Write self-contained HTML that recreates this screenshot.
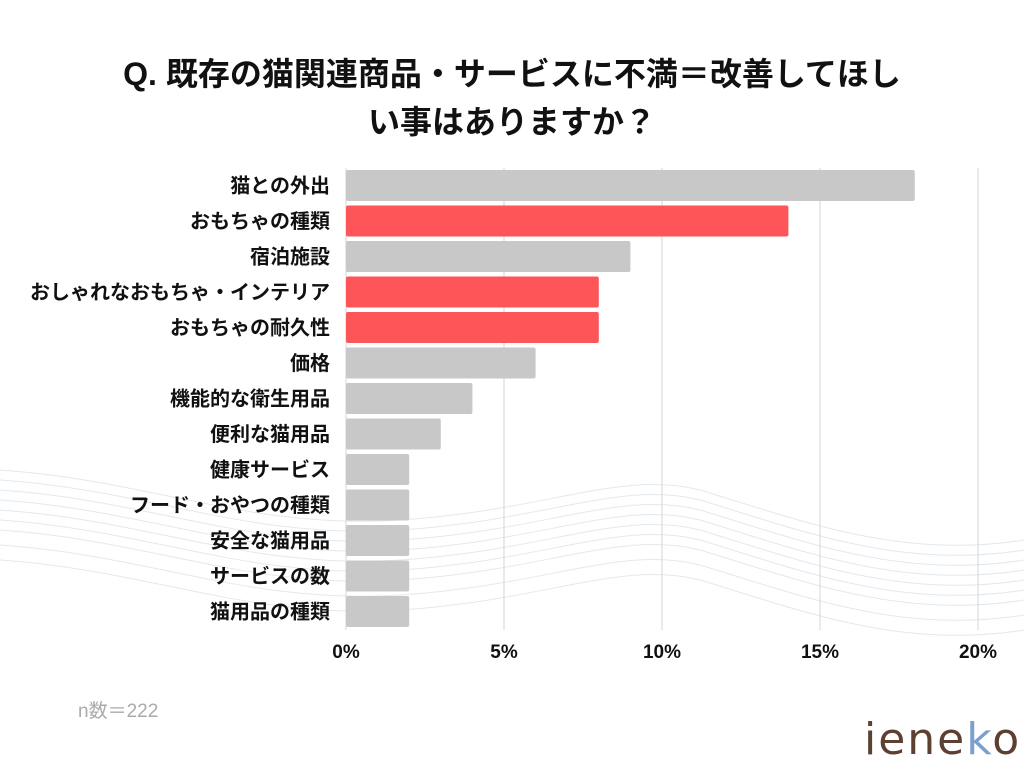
<!DOCTYPE html>
<html><head><meta charset="utf-8">
<style>
body{margin:0;width:1024px;height:768px;background:#fff;overflow:hidden;position:relative;font-family:"Liberation Sans","Noto Sans CJK JP",sans-serif;}
#title{position:absolute;left:0;width:1024px;top:50px;text-align:center;font-size:32px;font-weight:bold;line-height:48px;color:#111;}
svg{position:absolute;left:0;top:0;}
</style></head><body>
<svg width="1024" height="768">
<g fill="none" stroke="#e3e9ee" stroke-width="1">
<path d="M0 470 C150 480 250 530 400 520 C550 510 620 470 700 490 C800 520 900 560 1024 540"/>
<path d="M0 480 C150 490 250 540 400 530 C550 520 620 480 700 500 C800 530 900 570 1024 550"/>
<path d="M0 490 C150 500 250 550 400 540 C550 530 620 490 700 510 C800 540 900 580 1024 560"/>
<path d="M0 500 C150 510 250 560 400 550 C550 540 620 500 700 520 C800 550 900 590 1024 570"/>
<path d="M0 510 C150 520 250 570 400 560 C550 550 620 510 700 530 C800 560 900 600 1024 580"/>
<path d="M0 520 C150 530 250 580 400 570 C550 560 620 520 700 540 C800 570 900 610 1024 590"/>
<path d="M0 530 C150 540 250 590 400 580 C550 570 620 530 700 550 C800 580 900 620 1024 600"/>
<path d="M0 545 C150 555 250 605 400 595 C550 585 620 545 700 565 C800 595 900 635 1024 615"/>
<path d="M0 560 C150 570 250 620 400 610 C550 600 620 560 700 580 C800 610 900 650 1024 630"/>
</g>
</svg>
<div id="title">Q. 既存の猫関連商品・サービスに不満＝改善してほし<br>い事はありますか？</div>
<svg id="chart" width="1024" height="768"></svg>
<div style="position:absolute;left:78px;top:696px;font-size:19px;color:#aaa;">n数＝222</div>
<div style="position:absolute;left:864px;top:714px;font-size:44px;color:#5e4033;letter-spacing:2px;font-family:'DejaVu Sans',sans-serif;">iene<span style="color:#7ba0cc">k</span>o</div>
<script>
const categories=["猫との外出","おもちゃの種類","宿泊施設","おしゃれなおもちゃ・インテリア","おもちゃの耐久性","価格","機能的な衛生用品","便利な猫用品","健康サービス","フード・おやつの種類","安全な猫用品","サービスの数","猫用品の種類"];
const values=[18,14,9,8,8,6,4,3,2,2,2,2,2];
const highlighted=[false,true,false,true,true,false,false,false,false,false,false,false,false];
const ticks=[0,5,10,15,20];
const NS="http://www.w3.org/2000/svg";
const svg=document.getElementById('chart');
const x=v=>346+v*31.6;
const y=i=>170+i*35.5;
const bh=31;
function mk(t,a){const e=document.createElementNS(NS,t);for(const k in a)e.setAttribute(k,a[k]);svg.appendChild(e);return e;}
ticks.forEach(t=>{
 const l=mk('line',{x1:x(t),x2:x(t),y1:168,y2:630,stroke:'#d6d6d6','stroke-width':1});
 
 
 const tx=mk('text',{x:x(t),y:658,'text-anchor':'middle','font-size':19,'font-weight':'bold',fill:'#111'});
 tx.textContent=t+'%';
 
 
});
categories.forEach((c,i)=>{
 const r=mk('rect',{x:x(0),y:y(i),width:x(values[i])-x(0),height:bh,fill:highlighted[i]?'#fe5559':'#c8c8c8',rx:2});
 
 
 const t=mk('text',{x:330,y:y(i)+bh/2+7,'text-anchor':'end','font-size':20,'font-weight':'bold',fill:'#111'});
 t.textContent=c;
 
 
});
</script>
</body></html>
